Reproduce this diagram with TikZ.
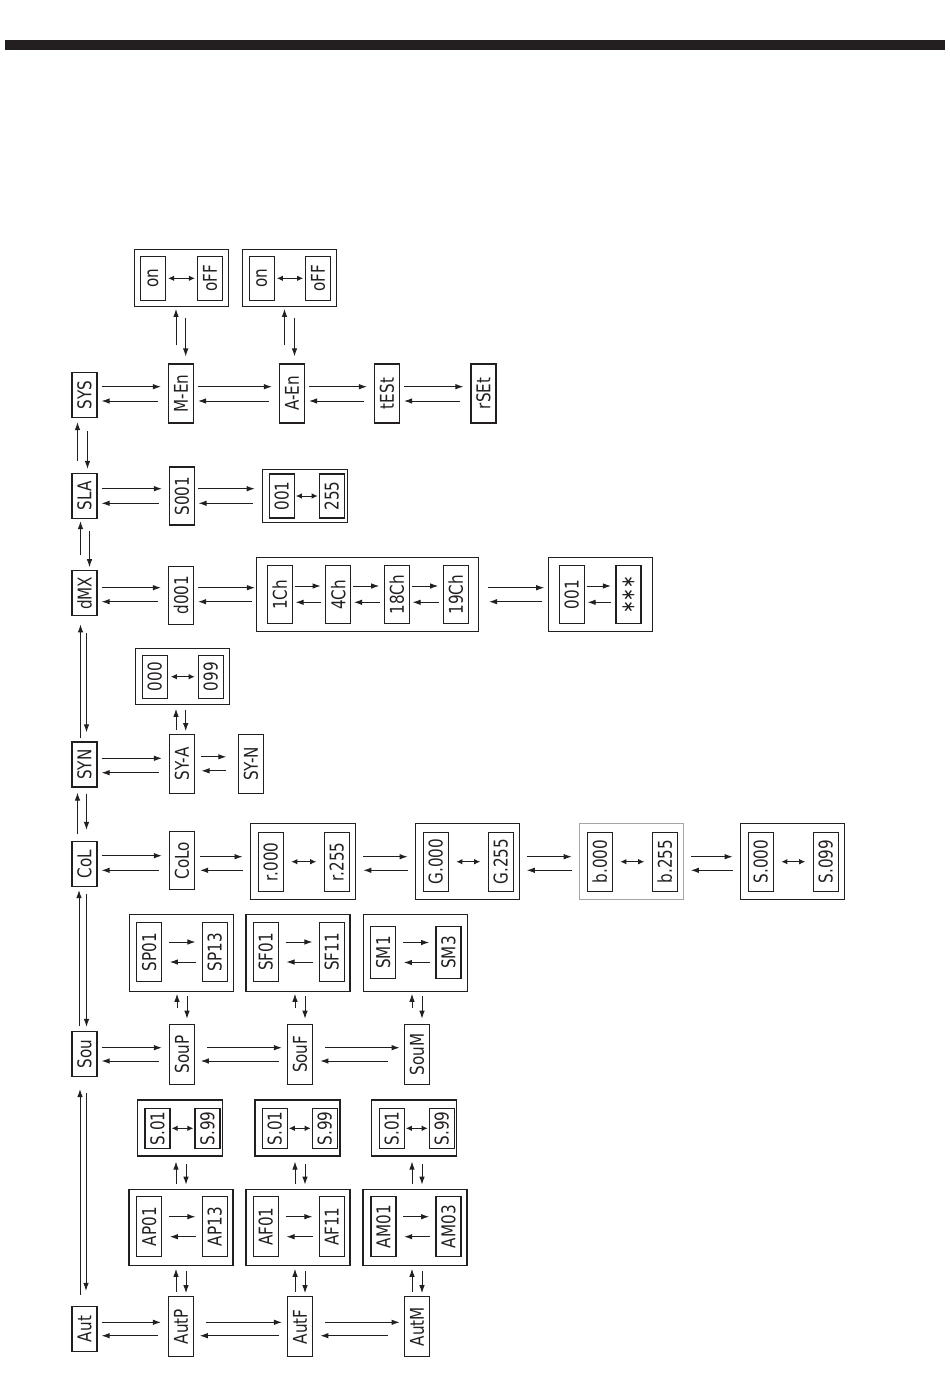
\documentclass[tikz,border=0pt]{standalone}
\usepackage{fontspec}
\usepackage{graphicx}
\usetikzlibrary{arrows.meta}
\newfontfamily\segfont{DejaVu Sans}[FakeStretch=0.8]
\definecolor{ink}{HTML}{231F20}
\newcommand{\segtxt}[1]{\rotatebox{90}{#1}}

\begin{document}
\begin{tikzpicture}[x=1pt, y=-1pt,
  disp/.style={draw=ink, line width=1.2pt, inner sep=0pt, minimum width=25pt, minimum height=59pt, text=ink, font=\segfont\fontsize{19}{19}\selectfont},
  menu/.style={disp, minimum height=45pt},
  frm/.style={draw=ink, line width=1.2pt, inner sep=0pt},
  fwd/.style={draw=ink, line width=0.9pt, -{Latex[length=8pt,width=5.5pt]}, shorten <=4pt, shorten >=7pt},
  bwd/.style={fwd, shorten <=10pt, shorten >=4pt},
  dbl/.style={draw=ink, line width=0.9pt, {Latex[length=6pt,width=5.5pt]}-{Latex[length=6pt,width=5.5pt]}, shorten <=2pt, shorten >=2pt}]
\useasboundingbox (0, 0) rectangle (950, 1374);
\fill[ink] (5, 40) rectangle (945, 49.5);

\node[menu] (sys) at (84.5, 395) {\segtxt{SYS}};
\node[menu] (sla) at (84.5, 496) {\segtxt{SLA}};
\node[menu] (dmx) at (84.5, 593.3) {\segtxt{dMX}};
\node[menu] (syn) at (84.5, 764.5) {\segtxt{SYN}};
\node[menu] (col) at (84.5, 864) {\segtxt{CoL}};
\node[menu] (sou) at (84.5, 1054) {\segtxt{Sou}};
\node[menu] (aut) at (84.5, 1329) {\segtxt{Aut}};

\node[disp] (men) at (181, 393.5) {\segtxt{M-En}};
\node[disp] (aen) at (292, 393.5) {\segtxt{A-En}};
\node[disp] (test) at (387, 393.5) {\segtxt{tESt}};
\node[disp] (rset) at (483.5, 393.5) {\segtxt{rSEt}};
\node[frm, minimum width=94pt, minimum height=57pt] (fen1) at (181.2, 278.3) {};
\node[disp, minimum height=44pt] (on1) at (153, 278.3) {\segtxt{on}};
\node[disp, minimum height=44pt] (off1) at (210, 278.3) {\segtxt{oFF}};
\node[frm, minimum width=94pt, minimum height=57pt] (fen2) at (289.5, 278.3) {};
\node[disp, minimum height=44pt] (on2) at (261.8, 278.3) {\segtxt{on}};
\node[disp, minimum height=44pt] (off2) at (318.2, 278.3) {\segtxt{oFF}};

\node[disp, minimum height=58pt] (sadr) at (182, 496) {\segtxt{S001}};
\node[frm, minimum width=85pt, minimum height=53pt] (fsla) at (304.8, 496) {};
\node[disp, minimum height=44pt] (slo) at (281.8, 496) {\segtxt{001}};
\node[disp, minimum height=44pt] (shi) at (331.8, 496) {\segtxt{255}};

\node[disp, minimum height=58pt] (dadr) at (181, 595.2) {\segtxt{d001}};
\node[frm, minimum width=222pt, minimum height=74pt] (fch) at (367.5, 594.5) {};
\node[disp, minimum height=58pt] (ch1) at (279.8, 594.8) {\segtxt{1Ch}};
\node[disp, minimum height=58pt] (ch4) at (338.2, 594.8) {\segtxt{4Ch}};
\node[disp, minimum height=58pt] (ch18) at (396.8, 594.8) {\segtxt{18Ch}};
\node[disp, minimum height=58pt] (ch19) at (455.8, 594.8) {\segtxt{19Ch}};
\node[frm, minimum width=104pt, minimum height=74pt] (fval) at (600.3, 594.5) {};
\node[disp, minimum height=58pt] (vlo) at (571.8, 594.8) {\segtxt{001}};
\node[disp, minimum height=58pt] (vhi) at (628.5, 594.8) {\segtxt{∗∗∗}};

\node[disp] (sya) at (182, 763.8) {\segtxt{SY-A}};
\node[disp] (sym) at (251, 763.8) {\segtxt{SY-N}};
\node[frm, minimum width=94pt, minimum height=56pt] (fsya) at (182.3, 676.2) {};
\node[disp, minimum height=43pt] (sylo) at (154.8, 676.7) {\segtxt{000}};
\node[disp, minimum height=43pt] (syhi) at (210.8, 676.7) {\segtxt{099}};

\node[disp, minimum height=58pt] (colo) at (182, 860.8) {\segtxt{CoLo}};
\node[frm, minimum width=105pt, minimum height=76pt] (fr) at (303.3, 861.3) {};
\node[disp] (rlo) at (270.8, 861.7) {\segtxt{r.000}};
\node[disp] (rhi) at (336.8, 861.7) {\segtxt{r.255}};
\node[frm, minimum width=104pt, minimum height=76pt] (fg) at (467.2, 861.3) {};
\node[disp] (glo) at (435.8, 861.7) {\segtxt{G.000}};
\node[disp] (ghi) at (500.8, 861.7) {\segtxt{G.255}};
\node[frm, draw=gray!70, minimum width=104pt, minimum height=76pt] (fb) at (631.3, 861.3) {};
\node[disp] (blo) at (599.8, 861.7) {\segtxt{b.000}};
\node[disp] (bhi) at (664.8, 861.7) {\segtxt{b.255}};
\node[frm, minimum width=104pt, minimum height=76pt] (fs) at (792.2, 861.3) {};
\node[disp] (stlo) at (760.8, 861.7) {\segtxt{S.000}};
\node[disp] (sthi) at (825.8, 861.7) {\segtxt{S.099}};

\node[disp, minimum height=60pt] (soup) at (182, 1054.3) {\segtxt{SouP}};
\node[disp, minimum height=60pt] (souf) at (300, 1054.3) {\segtxt{SouF}};
\node[disp, minimum height=60pt] (soum) at (417, 1054.3) {\segtxt{SouM}};
\node[frm, minimum width=104pt, minimum height=77pt] (fsp) at (181.3, 952.7) {};
\node[disp] (sp01) at (149.2, 952) {\segtxt{SP01}};
\node[disp] (sp13) at (214.8, 952) {\segtxt{SP13}};
\node[frm, minimum width=104pt, minimum height=77pt] (fsf) at (298, 952.7) {};
\node[disp] (sf01) at (265.8, 952) {\segtxt{SF01}};
\node[disp] (sf11) at (331.8, 952) {\segtxt{SF11}};
\node[frm, minimum width=104pt, minimum height=77pt] (fsm) at (415.3, 952.7) {};
\node[disp, minimum height=52pt] (sm1) at (383.2, 952.5) {\segtxt{SM1}};
\node[disp, minimum height=52pt] (sm3) at (448.5, 952.5) {\segtxt{SM3}};

\node[disp, minimum height=60pt] (autp) at (181, 1326.7) {\segtxt{AutP}};
\node[disp, minimum height=60pt] (autf) at (300, 1326.7) {\segtxt{AutF}};
\node[disp, minimum height=60pt] (autm) at (417, 1326.7) {\segtxt{AutM}};
\node[frm, minimum width=104pt, minimum height=76pt] (fap) at (181, 1227.2) {};
\node[disp, minimum height=60pt] (ap01) at (149.2, 1226.7) {\segtxt{AP01}};
\node[disp, minimum height=60pt] (ap13) at (214.8, 1226.7) {\segtxt{AP13}};
\node[frm, minimum width=104pt, minimum height=76pt] (faf) at (298, 1227.2) {};
\node[disp, minimum height=60pt] (af01) at (265.8, 1226.7) {\segtxt{AF01}};
\node[disp, minimum height=60pt] (af11) at (331.8, 1226.7) {\segtxt{AF11}};
\node[frm, minimum width=104pt, minimum height=76pt] (fam) at (415, 1227.2) {};
\node[disp, minimum height=60pt] (am01) at (383.5, 1226.7) {\segtxt{AM01}};
\node[disp, minimum height=60pt] (am03) at (448.5, 1226.7) {\segtxt{AM03}};
\node[frm, minimum width=85pt, minimum height=56pt] (fps) at (180.2, 1128) {};
\node[disp, minimum height=40pt] (pslo) at (157.5, 1128.3) {\segtxt{S.01}};
\node[disp, minimum height=40pt] (pshi) at (207.5, 1128.3) {\segtxt{S.99}};
\node[frm, minimum width=85pt, minimum height=56pt] (ffs) at (297.5, 1128) {};
\node[disp, minimum height=40pt] (fslo) at (274.8, 1128.3) {\segtxt{S.01}};
\node[disp, minimum height=40pt] (fshi) at (324.8, 1128.3) {\segtxt{S.99}};
\node[frm, minimum width=85pt, minimum height=56pt] (fms) at (414.2, 1128) {};
\node[disp, minimum height=40pt] (mslo) at (391.8, 1128.3) {\segtxt{S.01}};
\node[disp, minimum height=40pt] (mshi) at (441.8, 1128.3) {\segtxt{S.99}};

\draw[fwd, shorten <=12pt, shorten >=4pt] ([xshift=-7pt]sla.north) -- ([xshift=-7pt]sys.south);
\draw[fwd, shorten <=13pt, shorten >=4pt] ([xshift=3pt]sys.south) -- ([xshift=3pt]sla.north);
\draw[fwd, shorten <=15pt, shorten >=2pt] ([xshift=-4pt]dmx.north) -- ([xshift=-4pt]sla.south);
\draw[fwd, shorten <=12pt, shorten >=3pt] ([xshift=5pt]sla.south) -- ([xshift=5pt]dmx.north);
\draw[fwd, shorten <=3pt, shorten >=8pt] ([xshift=-4pt]syn.north) -- ([xshift=-4pt]dmx.south);
\draw[fwd, shorten <=17pt, shorten >=9pt] ([xshift=2pt]dmx.south) -- ([xshift=2pt]syn.north);
\draw[fwd, shorten <=7pt, shorten >=5pt] ([xshift=-7pt]col.north) -- ([xshift=-7pt]syn.south);
\draw[fwd, shorten <=6pt, shorten >=11pt] ([xshift=2pt]syn.south) -- ([xshift=2pt]col.north);
\draw[fwd, shorten <=5pt, shorten >=3pt] ([xshift=-5.5pt]sou.north) -- ([xshift=-5.5pt]col.south);
\draw[fwd, shorten <=7pt, shorten >=4pt] ([xshift=2pt]col.south) -- ([xshift=2pt]sou.north);
\draw[fwd, shorten <=11pt, shorten >=12pt] ([xshift=-4.5pt]aut.north) -- ([xshift=-4.5pt]sou.south);
\draw[fwd, shorten <=16pt, shorten >=15pt] ([xshift=1.5pt]sou.south) -- ([xshift=1.5pt]aut.north);

\draw[fwd] ([yshift=8.3pt]sys.east) -- ([yshift=8.3pt]sys.east -| men.west);
\draw[bwd] ([yshift=-6pt]sys.east -| men.west) -- ([yshift=-6pt]sys.east);
\draw[fwd] ([yshift=6.8pt]men.east) -- ([yshift=6.8pt]men.east -| aen.west);
\draw[bwd] ([yshift=-7.5pt]men.east -| aen.west) -- ([yshift=-7.5pt]men.east);
\draw[fwd] ([yshift=6.8pt]aen.east) -- ([yshift=6.8pt]aen.east -| test.west);
\draw[bwd] ([yshift=-7.5pt]aen.east -| test.west) -- ([yshift=-7.5pt]aen.east);
\draw[fwd] ([yshift=6.8pt]test.east) -- ([yshift=6.8pt]test.east -| rset.west);
\draw[bwd] ([yshift=-7.5pt]test.east -| rset.west) -- ([yshift=-7.5pt]test.east);
\draw[fwd, shorten <=18pt, shorten >=1.5pt] ([xshift=-5pt]men.north) -- ([xshift=-5pt]men.north |- fen1.south);
\draw[fwd, shorten <=11pt, shorten >=7pt] ([xshift=4.7pt]men.north |- fen1.south) -- ([xshift=4.7pt]men.north);
\draw[fwd, shorten <=18pt, shorten >=1.5pt] ([xshift=-7.5pt]aen.north) -- ([xshift=-7.5pt]aen.north |- fen2.south);
\draw[fwd, shorten <=11pt, shorten >=7pt] ([xshift=2.5pt]aen.north |- fen2.south) -- ([xshift=2.5pt]aen.north);
\draw[dbl] (on1.east) -- (off1.west);
\draw[dbl] (on2.east) -- (off2.west);

\draw[fwd] ([yshift=7.3pt]sla.east) -- ([yshift=7.3pt]sla.east -| sadr.west);
\draw[bwd] ([yshift=-7.3pt]sla.east -| sadr.west) -- ([yshift=-7.3pt]sla.east);
\draw[fwd, shorten <=3pt] ([yshift=7.3pt]sadr.east) -- ([yshift=7.3pt]sadr.east -| fsla.west);
\draw[bwd, shorten <=9pt, shorten >=3.5pt] ([yshift=-7.3pt]sadr.east -| fsla.west) -- ([yshift=-7.3pt]sadr.east);
\draw[dbl, shorten <=1pt, shorten >=1pt] (slo.east) -- (shi.west);

\draw[fwd] ([yshift=5.6pt]dmx.east) -- ([yshift=5.6pt]dmx.east -| dadr.west);
\draw[bwd] ([yshift=-8.4pt]dmx.east -| dadr.west) -- ([yshift=-8.4pt]dmx.east);
\draw[fwd, shorten >=1pt] ([yshift=7.5pt]dadr.east) -- ([yshift=7.5pt]dadr.east -| fch.west);
\draw[bwd, shorten <=4pt] ([yshift=-6.5pt]dadr.east -| fch.west) -- ([yshift=-6.5pt]dadr.east);
\draw[fwd, shorten <=8.5pt, shorten >=3.5pt] ([yshift=6.8pt]fch.east) -- ([yshift=6.8pt]fch.east -| fval.west);
\draw[bwd, shorten <=5.5pt, shorten >=10pt] ([yshift=-7.2pt]fch.east -| fval.west) -- ([yshift=-7.2pt]fch.east);
\foreach \a/\b in {ch1/ch4, ch4/ch18, ch18/ch19, vlo/vhi} {
  \draw[fwd, shorten <=2pt, shorten >=4.5pt] ([yshift=8.8pt]\a.east) -- ([yshift=8.8pt]\a.east -| \b.west);
  \draw[fwd, shorten <=4pt, shorten >=2.7pt] ([yshift=-7.5pt]\a.east -| \b.west) -- ([yshift=-7.5pt]\a.east);
}

\draw[fwd] ([yshift=6.2pt]syn.east) -- ([yshift=6.2pt]syn.east -| sya.west);
\draw[bwd] ([yshift=-8.2pt]syn.east -| sya.west) -- ([yshift=-8.2pt]syn.east);
\draw[fwd, shorten <=5.7pt, shorten >=11.6pt] ([yshift=7pt]sya.east) -- ([yshift=7pt]sya.east -| sym.west);
\draw[fwd, shorten <=11.6pt, shorten >=6.4pt] ([yshift=-7pt]sya.east -| sym.west) -- ([yshift=-7pt]sya.east);
\draw[fwd, shorten <=4pt, shorten >=4pt] ([xshift=-6pt]sya.north) -- ([xshift=-6pt]sya.north |- fsya.south);
\draw[fwd, shorten <=5pt, shorten >=2.6pt] ([xshift=3.7pt]sya.north |- fsya.south) -- ([xshift=3.7pt]sya.north);
\draw[dbl, shorten <=3pt, shorten >=3pt] (sylo.east) -- (syhi.west);

\draw[fwd] ([yshift=8.3pt]col.east) -- ([yshift=8.3pt]col.east -| colo.west);
\draw[bwd] ([yshift=-6.3pt]col.east -| colo.west) -- ([yshift=-6.3pt]col.east);
\draw[fwd, shorten <=5pt, shorten >=7.7pt] ([yshift=4.1pt]colo.east) -- ([yshift=4.1pt]colo.east -| fr.west);
\draw[bwd, shorten <=7.7pt, shorten >=5pt] ([yshift=-9.5pt]colo.east -| fr.west) -- ([yshift=-9.5pt]colo.east);
\foreach \a/\b in {fr/fg, fg/fb, fb/fs} {
  \draw[fwd, shorten <=7pt, shorten >=7pt] ([yshift=4.6pt]\a.east) -- ([yshift=4.6pt]\a.east -| \b.west);
  \draw[fwd, shorten <=7pt, shorten >=7pt] ([yshift=-9pt]\a.east -| \b.west) -- ([yshift=-9pt]\a.east);
}
\foreach \a/\b in {rlo/rhi, glo/ghi, blo/bhi, stlo/sthi} {
  \draw[dbl, shorten <=7.5pt, shorten >=7.5pt] (\a.east) -- (\b.west);
}

\draw[fwd] ([yshift=6.3pt]sou.east) -- ([yshift=6.3pt]sou.east -| soup.west);
\draw[bwd] ([yshift=-7pt]sou.east -| soup.west) -- ([yshift=-7pt]sou.east);
\draw[fwd, shorten <=12pt, shorten >=5pt] ([yshift=6.6pt]soup.east) -- ([yshift=6.6pt]soup.east -| souf.west);
\draw[fwd, shorten <=7.7pt, shorten >=5.7pt] ([yshift=-6.7pt]soup.east -| souf.west) -- ([yshift=-6.7pt]soup.east);
\draw[fwd, shorten <=12pt, shorten >=4.3pt] ([yshift=6.6pt]souf.east) -- ([yshift=6.6pt]souf.east -| soum.west);
\draw[fwd, shorten <=16pt, shorten >=7.3pt] ([yshift=-6.7pt]souf.east -| soum.west) -- ([yshift=-6.7pt]souf.east);
\foreach \n/\f in {soup/fsp, souf/fsf, soum/fsm} {
  \draw[fwd, shorten <=16pt, shorten >=2pt] ([xshift=-5pt]\n.north) -- ([xshift=-5pt]\n.north |- \f.south);
  \draw[fwd, shorten <=4pt, shorten >=5pt] ([xshift=5pt]\n.north |- \f.south) -- ([xshift=5pt]\n.north);
}
\foreach \a/\b in {sp01/sp13, sf01/sf11, sm1/sm3, ap01/ap13, af01/af11, am01/am03} {
  \draw[fwd, shorten <=6.6pt, shorten >=6.3pt] ([yshift=10pt]\a.east) -- ([yshift=10pt]\a.east -| \b.west);
  \draw[fwd, shorten <=5.6pt, shorten >=7.6pt] ([yshift=-10pt]\a.east -| \b.west) -- ([yshift=-10pt]\a.east);
}

\draw[fwd] ([yshift=6.7pt]aut.east) -- ([yshift=6.7pt]aut.east -| autp.west);
\draw[bwd] ([yshift=-6.7pt]aut.east -| autp.west) -- ([yshift=-6.7pt]aut.east);
\draw[fwd, shorten <=12pt, shorten >=5pt] ([yshift=4.4pt]autp.east) -- ([yshift=4.4pt]autp.east -| autf.west);
\draw[fwd, shorten <=7.7pt, shorten >=5.7pt] ([yshift=-9pt]autp.east -| autf.west) -- ([yshift=-9pt]autp.east);
\draw[fwd, shorten <=12pt, shorten >=4.3pt] ([yshift=4.4pt]autf.east) -- ([yshift=4.4pt]autf.east -| autm.west);
\draw[fwd, shorten <=16pt, shorten >=7.3pt] ([yshift=-9pt]autf.east -| autm.west) -- ([yshift=-9pt]autf.east);
\foreach \n/\f/\s in {autp/fap/fps, autf/faf/ffs, autm/fam/fms} {
  \draw[fwd, shorten <=4pt, shorten >=3pt] ([xshift=-5pt]\n.north) -- ([xshift=-5pt]\n.north |- \f.south);
  \draw[fwd, shorten <=5pt, shorten >=3pt] ([xshift=5pt]\n.north |- \f.south) -- ([xshift=5pt]\n.north);
  \draw[fwd, shorten <=5pt, shorten >=5pt] ([xshift=-5pt]\n.north |- \f.north) -- ([xshift=-5pt]\n.north |- \s.south);
  \draw[fwd, shorten <=7pt, shorten >=4pt] ([xshift=5pt]\n.north |- \s.south) -- ([xshift=5pt]\n.north |- \f.north);
}
\foreach \a/\b in {pslo/pshi, fslo/fshi, mslo/mshi} {
  \draw[dbl, shorten <=1pt, shorten >=1pt] (\a.east) -- (\b.west);
}
\end{tikzpicture}
\end{document}
